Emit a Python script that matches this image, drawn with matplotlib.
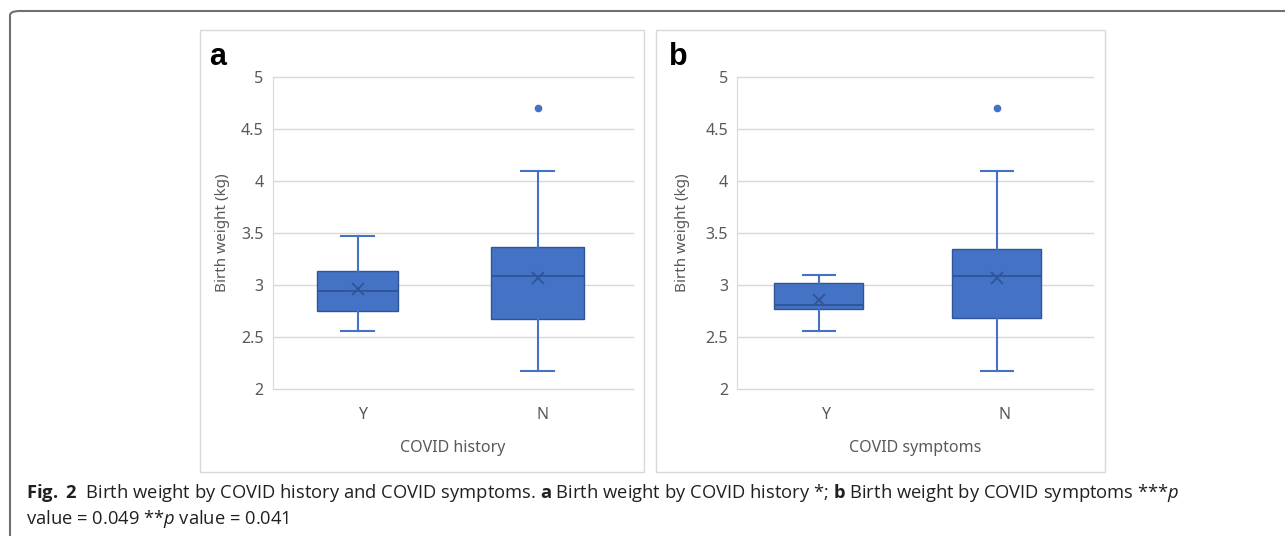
import matplotlib
matplotlib.use("Agg")
import matplotlib.pyplot as plt
from matplotlib.patches import FancyBboxPatch, Rectangle

# ---- data ----
categories = ["Y", "N"]
# panel a: COVID history
a_whislo = [2.56, 2.17]
a_q1 = [2.75, 2.67]
a_med = [2.94, 3.09]
a_q3 = [3.14, 3.37]
a_whishi = [3.47, 4.10]
a_mean = [2.96, 3.07]
a_fliers = [[], [4.70]]
# panel b: COVID symptoms
b_whislo = [2.56, 2.17]
b_q1 = [2.77, 2.68]
b_med = [2.81, 3.09]
b_q3 = [3.02, 3.35]
b_whishi = [3.10, 4.10]
b_mean = [2.86, 3.07]
b_fliers = [[], [4.70]]

yticks = [2, 2.5, 3, 3.5, 4, 4.5, 5]
ytick_labels = ["2", "2.5", "3", "3.5", "4", "4.5", "5"]

W, H = 1285, 536
fig = plt.figure(figsize=(W / 100, H / 100), dpi=100)
plt.rcParams['font.family'] = ['Noto Sans', 'DejaVu Sans']
plt.rcParams['mathtext.fontset'] = 'custom'
plt.rcParams['mathtext.rm'] = 'Open Sans'
plt.rcParams['mathtext.it'] = 'Open Sans:italic'
plt.rcParams['mathtext.bf'] = 'Open Sans:bold'

BLUE = "#4472C4"
DARK = "#2F5597"
GRID = "#D9D9D9"
TXT = "#595959"


def fx(px):
    return px / W


def fy(py):
    return 1 - py / H


# outer rounded border (extends beyond right/bottom)
outer = FancyBboxPatch((fx(10), fy(560)), fx(1300), (560 - 11) / H,
                       boxstyle="round,pad=0,rounding_size=0.008",
                       transform=fig.transFigure, fill=False,
                       edgecolor="#707070", linewidth=1.5, clip_on=False)
fig.patches.append(outer)

# panel frames
for (x0, x1) in [(200, 644), (656, 1105)]:
    fig.patches.append(Rectangle((fx(x0), fy(472)), fx(x1 - x0), (472 - 30) / H,
                                 transform=fig.transFigure, fill=False,
                                 edgecolor=GRID, linewidth=1.0))


def draw_panel(axrect, whislo, q1, med, q3, whishi, mean, fliers,
               offset, widths, xlabel, letter, letter_x, ylabel_x):
    ax = fig.add_axes(axrect)
    stats = []
    for i in range(len(categories)):
        stats.append(dict(whislo=whislo[i], q1=q1[i], med=med[i], q3=q3[i],
                          whishi=whishi[i], mean=mean[i], fliers=fliers[i],
                          label=categories[i]))
    pos = [i + 1 + offset for i in range(len(categories))]
    ax.bxp(stats, positions=pos, widths=widths, patch_artist=True,
           showmeans=True, showfliers=True,
           boxprops=dict(facecolor=BLUE, edgecolor=DARK, linewidth=1.0),
           whiskerprops=dict(color=BLUE, linewidth=1.5),
           capprops=dict(color=BLUE, linewidth=1.5),
           medianprops=dict(color=DARK, linewidth=1.3),
           meanprops=dict(marker="x", markeredgecolor=DARK, markersize=9,
                          markeredgewidth=1.3),
           flierprops=dict(marker="o", markerfacecolor=BLUE,
                           markeredgecolor=BLUE, markersize=4.5),
           capwidths=[0.18, 0.18], zorder=3)
    ax.set_xlim(0.5, 2.5)
    ax.set_ylim(2, 5)
    ax.set_xticks([1, 2])
    ax.set_xticklabels(categories)
    ax.set_yticks(yticks)
    ax.set_yticklabels(ytick_labels)
    ax.tick_params(length=0, colors=TXT, labelsize=11.5)
    ax.tick_params(axis="y", pad=6.5)
    ax.tick_params(axis="x", pad=13)
    ax.grid(axis="y", color=GRID, linewidth=1.0, zorder=0)
    ax.set_axisbelow(True)
    for s in ["top", "right", "bottom"]:
        ax.spines[s].set_visible(False)
    ax.spines["left"].set_color(GRID)
    for gl in ax.get_ygridlines():
        gl.set_clip_on(False)
    fig.text(fx(axrect[0] * W + axrect[2] * W / 2), fy(448), xlabel,
             ha="center", va="center", color=TXT, fontsize=11.5)
    fig.text(fx(ylabel_x), fy(233), "Birth weight (kg)", rotation=90,
             ha="center", va="center", color=TXT, fontsize=11)
    fig.text(fx(letter_x), fy(57), letter, ha="center", va="center",
             fontsize=22, fontweight="bold", color="black",
             family=["Liberation Sans", "DejaVu Sans"])
    return ax


draw_panel([fx(272.7), fy(389), fx(360), 311.7 / H],
           a_whislo, a_q1, a_med, a_q3, a_whishi, a_mean, a_fliers,
           -0.028, [0.45, 0.515], "COVID history", "a", 218, 222)
draw_panel([fx(737), fy(389), fx(356), 311.7 / H],
           b_whislo, b_q1, b_med, b_q3, b_whishi, b_mean, b_fliers,
           -0.04, [0.5, 0.5], "COVID symptoms", "b", 678, 682)

# caption
cap_fs = 13.2
CAP = "#231F20"
fig.text(fx(26), fy(498),
         r"$\bf{Fig.\ 2}$  Birth weight by COVID history and COVID symptoms. "
         r"$\bf{a}$ Birth weight by COVID history *; $\bf{b}$ Birth weight by COVID symptoms ***$\it{p}$",
         ha="left", va="baseline", fontsize=cap_fs, color=CAP,
         family=["Open Sans", "DejaVu Sans"])
fig.text(fx(26), fy(524.5),
         r"value = 0.049 **$\it{p}$ value = 0.041",
         ha="left", va="baseline", fontsize=cap_fs, color=CAP,
         family=["Open Sans", "DejaVu Sans"])

fig.savefig("out.png", dpi=100)
